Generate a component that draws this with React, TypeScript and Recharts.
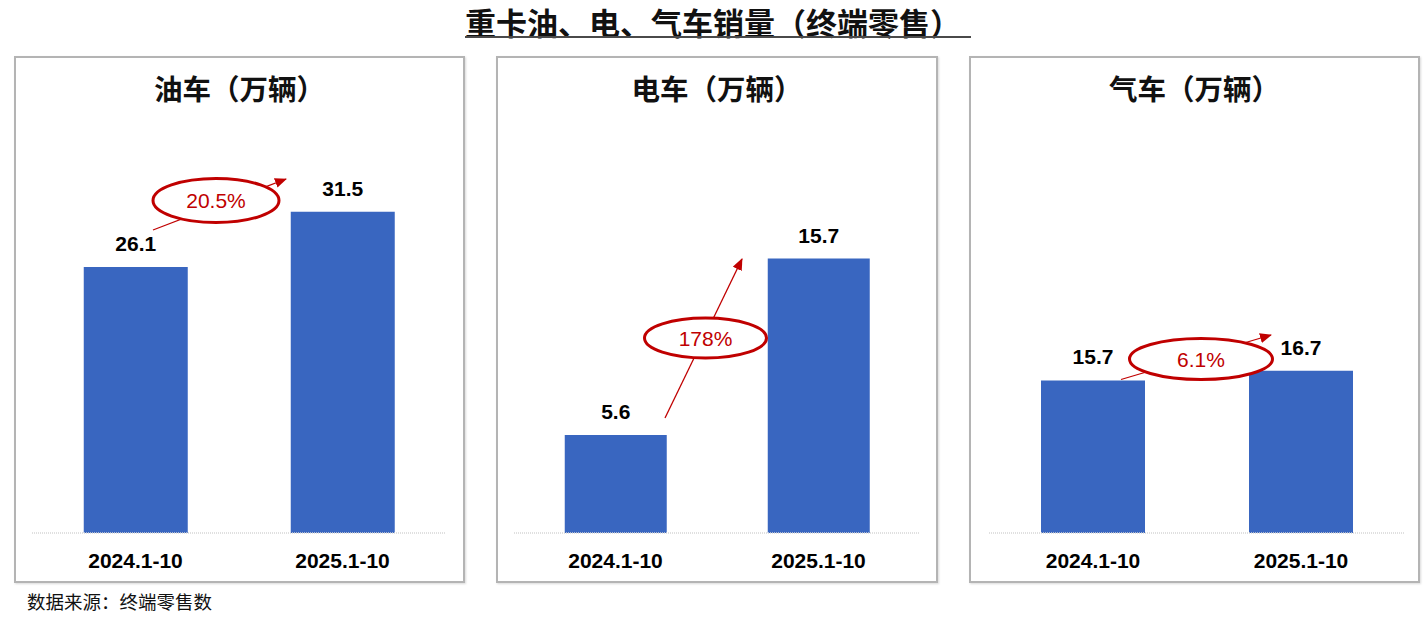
import React from 'react';
import { BarChart, Bar, XAxis, YAxis, LabelList } from 'recharts';

// ---- data ----
const categories = ['2024.1-10', '2025.1-10'];
const oilValues = [26.1, 31.5];
const evValues = [5.6, 15.7];
const gasValues = [15.7, 16.7];
const panelTitles = ['油车（万辆）', '电车（万辆）', '气车（万辆）'];
const growthLabels = ['20.5%', '178%', '6.1%'];
const mainTitle = '重卡油、电、气车销量（终端零售）';
const sourceNote = '数据来源：终端零售数';

// ---- layout / style ----
const BAR_COLOR = '#3966C0';
const RED = '#C00000';
const PANEL_TOP = 56;
const PANEL_H = 527;
const CJK = '"Noto Sans CJK SC", "Noto Sans", sans-serif';
const LATIN = '"Liberation Sans", Arial, sans-serif';

const panels = [
  {
    left: 14, width: 451, mLeft: 18, mRight: 19, yMax: 40.8, values: oilValues,
    ell: { cx: 216, cy: 200.5, rx: 63, ry: 22 }, arrow: { x1: 153, y1: 230, x2: 286, y2: 179 },
  },
  {
    left: 496, width: 442, mLeft: 18, mRight: 18, yMax: 23.8, values: evValues,
    ell: { cx: 705.5, cy: 338, rx: 61, ry: 20 }, arrow: { x1: 665, y1: 418, x2: 742, y2: 259 },
  },
  {
    left: 969, width: 451, mLeft: 20, mRight: 15, yMax: 42.8, values: gasValues,
    ell: { cx: 1201, cy: 359, rx: 71.5, ry: 20.5 }, arrow: { x1: 1121, y1: 379.5, x2: 1271, y2: 335 },
  },
];

function Panel({ p, title }: { p: any; title: string }) {
  const data = categories.map((c, i) => ({ name: c, value: p.values[i] }));
  return (
    <>
      <div
        style={{
          position: 'absolute', left: p.left, top: PANEL_TOP, width: p.width, height: PANEL_H,
          boxSizing: 'border-box', border: '2px solid #b4b4b4',
          boxShadow: '1px 1px 2px rgba(0,0,0,0.15)', background: '#fff',
        }}
      />
      <div
        style={{
          position: 'absolute', left: p.left, top: 68, width: p.width, height: 40, lineHeight: '40px',
          textAlign: 'center', fontFamily: CJK, fontWeight: 700, fontSize: 28.5, color: '#111',
        }}
      >
        {title}
      </div>
      <div style={{ position: 'absolute', left: p.left, top: PANEL_TOP }}>
        <BarChart
          width={p.width}
          height={PANEL_H}
          data={data}
          margin={{ top: 61, right: p.mRight, bottom: 20, left: p.mLeft }}
          barCategoryGap="25%"
        >
          <XAxis
            dataKey="name"
            height={30}
            tickLine={false}
            tickMargin={14}
            axisLine={{ stroke: '#d6d6d6', strokeWidth: 1.5, strokeDasharray: '1 1' }}
            tick={{ fill: '#000', fontFamily: LATIN, fontWeight: 700, fontSize: 21 }}
            interval={0}
          />
          <YAxis hide domain={[0, p.yMax]} width={0} />
          <Bar dataKey="value" fill={BAR_COLOR} isAnimationActive={false}>
            <LabelList
              dataKey="value"
              position="top"
              offset={16}
              style={{ fill: '#000', fontFamily: LATIN, fontWeight: 700, fontSize: 21 }}
            />
          </Bar>
        </BarChart>
      </div>
    </>
  );
}

export default function App() {
  return (
    <div style={{ position: 'absolute', left: 0, top: 0, width: 1424, height: 617, background: '#fff', overflow: 'hidden' }}>
      <div
        style={{
          position: 'absolute', left: 465, top: 0, height: 43, lineHeight: '43px', whiteSpace: 'nowrap',
          fontFamily: CJK, fontWeight: 700, fontSize: 31, color: '#111',
        }}
      >
        {mainTitle}
      </div>
      <div style={{ position: 'absolute', left: 465, top: 36, width: 506, height: 2, background: '#4a4a4a' }} />

      {panels.map((p, i) => (
        <Panel key={i} p={p} title={panelTitles[i]} />
      ))}

      <svg width={1424} height={617} style={{ position: 'absolute', left: 0, top: 0, pointerEvents: 'none' }}>
        <defs>
          <marker id="arrowHead" markerUnits="userSpaceOnUse" markerWidth={12} markerHeight={10} refX={11} refY={5} orient="auto">
            <path d="M0,0 L12,5 L0,10 z" fill={RED} />
          </marker>
        </defs>
        {panels.map((p, i) => (
          <g key={i}>
            <line x1={p.arrow.x1} y1={p.arrow.y1} x2={p.arrow.x2} y2={p.arrow.y2} stroke={RED} strokeWidth={1.3} markerEnd="url(#arrowHead)" />
            <ellipse cx={p.ell.cx} cy={p.ell.cy} rx={p.ell.rx} ry={p.ell.ry} fill="#fff" stroke={RED} strokeWidth={3} />
            <text x={p.ell.cx} y={p.ell.cy} dy="0.36em" textAnchor="middle" fill={RED} fontFamily={LATIN} fontSize={21}>
              {growthLabels[i]}
            </text>
          </g>
        ))}
      </svg>

      <div
        style={{
          position: 'absolute', left: 27, top: 589, height: 24, lineHeight: '24px', whiteSpace: 'nowrap',
          fontFamily: CJK, fontSize: 18.5, color: '#111',
        }}
      >
        {sourceNote}
      </div>
    </div>
  );
}
